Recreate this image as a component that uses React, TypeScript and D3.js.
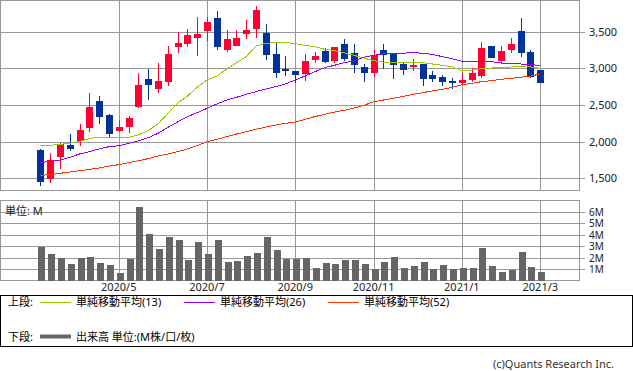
import React from "react";
import * as d3 from "d3";

// Weekly OHLC (price)
const opens = [1884,1489,1793,1952,2007,2189,2552,2361,2143,2198,2466,2852,2720,2816,3293,3334,3416,3507,3684,3248,3307,3470,3539,3480,3193,2989,2961,2920,3111,3234,3102,3334,3202,3016,2939,3248,3202,3057,3016,3057,2902,2875,2825,2793,2839,2898,3302,3098,3248,3507,3220,2975];
const highs = [1898,1848,1984,2102,2239,2666,2621,2370,2293,2348,2939,2993,3075,3302,3498,3534,3698,3698,3780,3520,3520,3657,3848,3602,3352,3166,2965,3193,3225,3270,3295,3402,3334,3057,3248,3334,3202,3075,3120,3057,2957,2902,2866,2929,2998,3361,3302,3302,3411,3689,3248,2975];
const lows = [1397,1439,1625,1870,1939,2134,2243,2061,2134,2120,2461,2566,2666,2761,3211,3289,3170,3370,3248,3220,3307,3398,3411,3111,2866,2893,2802,2830,3075,3066,3066,3102,2939,2816,2875,2984,2857,2911,2957,2761,2816,2761,2711,2775,2816,2870,3143,3066,3207,3157,2870,2802];
const closes = [1452,1748,1966,1898,2157,2471,2339,2102,2198,2325,2770,2775,2825,3193,3343,3452,3470,3630,3293,3398,3411,3520,3793,3184,2939,2961,2911,3098,3166,3084,3289,3125,3039,2930,3175,3175,3039,2980,3039,2857,2848,2816,2802,2839,2934,3275,3143,3234,3334,3211,2884,2802];

// Moving averages
const ma13 = [1939,1948,1962,1975,2002,2039,2061,2061,2048,2057,2089,2148,2239,2384,2521,2620,2739,2839,2893,2984,3075,3157,3302,3339,3348,3352,3334,3311,3293,3257,3239,3211,3175,3139,3102,3084,3084,3084,3084,3075,3057,3039,3020,2966,2975,2993,3002,3007,3016,3020,3016,2998];
const ma26 = [1716,1725,1748,1784,1830,1862,1898,1930,1943,1975,2007,2052,2111,2193,2266,2339,2393,2452,2511,2566,2602,2643,2680,2716,2748,2784,2839,2893,2952,3007,3039,3075,3098,3148,3175,3198,3202,3202,3216,3202,3189,3157,3130,3093,3089,3089,3089,3070,3061,3057,3052,3034];
const ma52 = [1539,1548,1566,1584,1602,1621,1639,1666,1684,1712,1739,1766,1802,1830,1861,1898,1943,1998,2030,2066,2102,2134,2166,2198,2225,2248,2266,2302,2339,2371,2402,2425,2457,2493,2543,2566,2589,2616,2643,2666,2689,2711,2739,2775,2793,2816,2830,2848,2861,2875,2893,2920];

// Volume in millions
const volumes = [2.97,2.32,1.97,1.44,1.97,2.06,1.53,1.35,0.64,1.88,6.47,4.09,2.76,3.82,3.56,1.79,3.38,2.32,3.56,1.62,1.71,2.15,2.41,3.82,2.67,1.88,1.88,1.97,1.09,1.53,1.44,1.79,1.79,1.44,1.0,1.62,2.06,1.09,1.27,1.62,1.0,1.35,1.0,1.09,1.09,2.85,1.27,0.74,0.91,2.5,1.18,0.74];

const priceTicks = [1500, 2000, 2500, 3000, 3500];
const volTicks = [1, 2, 3, 4, 5, 6];

const weeks = d3.timeMonday.range(new Date(2020, 2, 9), new Date(2021, 2, 2));
const monthTicks = weeks
  .map((d, i) => ({ d, i }))
  .filter(({ d }) => d.getDate() <= 7 && d.getMonth() % 2 === 0);
const fmtMonth = d3.timeFormat("%Y/%-m");

const legendItems = [
  { label: "単純移動平均(13)", color: "#99CC00", series: ma13 },
  { label: "単純移動平均(26)", color: "#9900FF", series: ma26 },
  { label: "単純移動平均(52)", color: "#FF3300", series: ma52 },
];

const UP = "#FF0033";
const DOWN = "#003399";
const GRID = "#999999";
const FONT = "'Noto Sans', 'Noto Sans CJK JP', sans-serif";

export default function App() {
  const W = 633, H = 371;
  const plotL = 0.5, plotR = 579.5;
  const x = d3.scaleLinear().domain([0, weeks.length - 1]).range([40.3, 540.3]);
  const y = d3.scaleLinear().domain([1500, 3500]).range([178.2, 31.5]);
  const yv = d3.scaleLinear().domain([0, 7]).range([280.5, 200.5]);
  const line = d3.line<number>().x((_, i) => x(i)).y((v) => y(v));

  return (
    <svg width={W} height={H} style={{ position: "absolute", left: 0, top: 0, background: "#fff" }} fontFamily={FONT}>
      {/* main panel grid */}
      {priceTicks.map((t) => (
        <g key={t}>
          <line x1={plotL} x2={585} y1={Math.round(y(t)) + 0.5} y2={Math.round(y(t)) + 0.5} stroke={GRID} />
          <text x={589} y={Math.round(y(t)) + 0.5} dy="0.35em" fontSize={11} fill="#222">{d3.format(",")(t)}</text>
        </g>
      ))}
      {monthTicks.map(({ i }) => (
        <g key={"v" + i}>
          <line x1={Math.round(x(i)) + 0.5} x2={Math.round(x(i)) + 0.5} y1={0.5} y2={190.5} stroke={GRID} />
          <line x1={Math.round(x(i)) + 0.5} x2={Math.round(x(i)) + 0.5} y1={200.5} y2={280.5} stroke={GRID} />
        </g>
      ))}
      <rect x={plotL} y={0.5} width={plotR - plotL} height={190} fill="none" stroke={GRID} />

      {/* candles */}
      {opens.map((o, i) => {
        const c = closes[i];
        const col = c >= o ? UP : DOWN;
        const cx = Math.round(x(i));
        const top = y(Math.max(o, c));
        const bot = y(Math.min(o, c));
        return (
          <g key={"c" + i} shapeRendering="crispEdges">
            <line x1={cx + 0.5} x2={cx + 0.5} y1={y(highs[i])} y2={y(lows[i])} stroke={col} />
            <rect x={cx - 3} y={top} width={7} height={Math.max(1, bot - top)} fill={col} />
          </g>
        );
      })}

      {/* moving averages */}
      {legendItems.map((it) => (
        <path key={it.label} d={line(it.series) || ""} fill="none" stroke={it.color} strokeWidth={1} shapeRendering="crispEdges" />
      ))}

      {/* volume panel */}
      {volTicks.map((t) => (
        <g key={"vt" + t}>
          <line x1={plotL} x2={585} y1={Math.round(yv(t)) + 0.5} y2={Math.round(yv(t)) + 0.5} stroke={GRID} />
          <text x={589} y={Math.round(yv(t)) + 0.5} dy="0.35em" fontSize={10} fill="#222">{t}M</text>
        </g>
      ))}
      <rect x={plotL} y={200.5} width={plotR - plotL} height={80} fill="none" stroke={GRID} />
      {volumes.map((v, i) => (
        <rect key={"b" + i} x={Math.round(x(i)) - 2} y={yv(v)} width={7} height={yv(0) - yv(v)} fill="#666666" shapeRendering="crispEdges" />
      ))}
      <text x={5} y={214.5} fontSize={11} fill="#222">単位: M</text>

      {/* x labels */}
      {monthTicks.map(({ d, i }) => (
        <text key={"xl" + i} x={x(i)} y={291} textAnchor="middle" fontSize={11} fill="#222">{fmtMonth(d)}</text>
      ))}

      {/* legend */}
      <rect x={0.5} y={295.5} width={632} height={51} fill="none" stroke="#000" />
      <text x={8} y={306} fontSize={11} fill="#000">上段:</text>
      {legendItems.map((it, k) => {
        const lx = [40, 184, 328][k];
        return (
          <g key={"lg" + k}>
            <line x1={lx} x2={lx + 31} y1={302.5} y2={302.5} stroke={it.color} />
            <text x={lx + 36} y={306} fontSize={11} fill="#000">{it.label}</text>
          </g>
        );
      })}
      <text x={8} y={340.5} fontSize={11} fill="#000">下段:</text>
      <line x1={40} x2={71} y1={336.5} y2={336.5} stroke="#666666" strokeWidth={4} />
      <text x={76} y={340.5} fontSize={11} fill="#000">出来高 単位:(M株/口/枚)</text>

      <text x={614} y={368} textAnchor="end" fontSize={11} fill="#333">(c)Quants Research Inc.</text>
    </svg>
  );
}
